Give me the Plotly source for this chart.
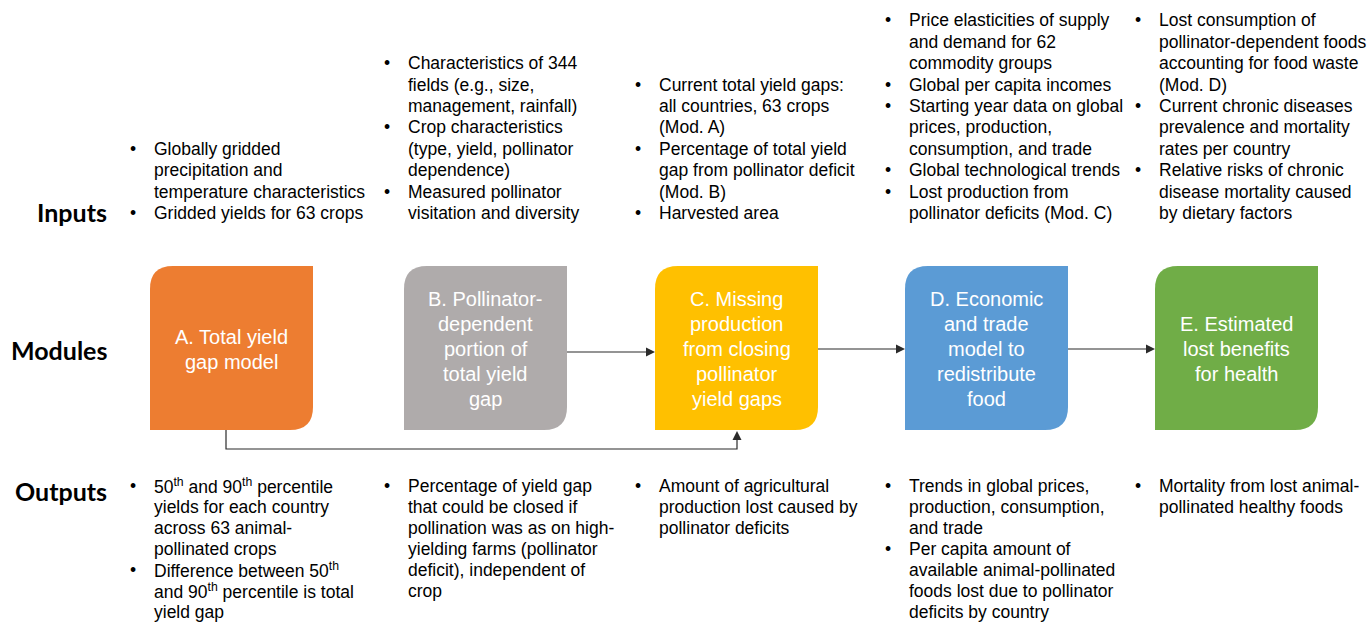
import plotly.graph_objects as go

# ---------------- content ----------------
row_labels = ["Inputs", "Modules", "Outputs"]

module_lines = [
    ["A. Total yield", "gap model"],
    ["B. Pollinator-", "dependent", "portion of", "total yield", "gap"],
    ["C. Missing", "production", "from closing", "pollinator", "yield gaps"],
    ["D. Economic", "and trade", "model to", "redistribute", "food"],
    ["E. Estimated", "lost benefits", "for health"],
]
module_colors = ["#ED7D31", "#AFABAB", "#FFC000", "#5B9BD5", "#70AD47"]

inputs_A = [
    ["Globally gridded", "precipitation and", "temperature characteristics"],
    ["Gridded yields for 63 crops"],
]
inputs_B = [
    ["Characteristics of 344", "fields (e.g., size,", "management, rainfall)"],
    ["Crop characteristics", "(type, yield, pollinator", "dependence)"],
    ["Measured pollinator", "visitation and diversity"],
]
inputs_C = [
    ["Current total yield gaps:", "all countries, 63 crops", "(Mod. A)"],
    ["Percentage of total yield", "gap from pollinator deficit", "(Mod. B)"],
    ["Harvested area"],
]
inputs_D = [
    ["Price elasticities of supply", "and demand for 62", "commodity groups"],
    ["Global per capita incomes"],
    ["Starting year data on global", "prices, production,", "consumption, and trade"],
    ["Global technological trends"],
    ["Lost production from", "pollinator deficits (Mod. C)"],
]
inputs_E = [
    ["Lost consumption of", "pollinator-dependent foods", "accounting for food waste", "(Mod. D)"],
    ["Current chronic diseases", "prevalence and mortality", "rates per country"],
    ["Relative risks of chronic", "disease mortality caused", "by dietary factors"],
]

outputs_A = [
    ["50<sup>th</sup> and 90<sup>th</sup> percentile", "yields for each country",
     "across 63 animal-", "pollinated crops"],
    ["Difference between 50<sup>th</sup>", "and 90<sup>th</sup> percentile is total", "yield gap"],
]
outputs_B = [
    ["Percentage of yield gap", "that could be closed if", "pollination was as on high-",
     "yielding farms (pollinator", "deficit), independent of", "crop"],
]
outputs_C = [
    ["Amount of agricultural", "production lost caused by", "pollinator deficits"],
]
outputs_D = [
    ["Trends in global prices,", "production, consumption,", "and trade"],
    ["Per capita amount of", "available animal-pollinated", "foods lost due to pollinator",
     "deficits by country"],
]
outputs_E = [
    ["Mortality from lost animal-", "pollinated healthy foods"],
]

inputs = [inputs_A, inputs_B, inputs_C, inputs_D, inputs_E]
outputs = [outputs_A, outputs_B, outputs_C, outputs_D, outputs_E]

# arrows: (from module, to module)
flow_links = [(1, 2), (2, 3), (3, 4)]
bottom_link = (0, 2)

# ---------------- layout constants ----------------
W, H = 1369, 622
BOX_X0 = [150, 404, 655, 905, 1155]
BOX_W = 163
BOX_Y0, BOX_Y1 = 266, 430
R = 23
FLOW_Y = [352, 349, 349]
BOTTOM_Y = 449
BOTTOM_X = [226, 737]

TXT_FONT = "Liberation Sans, Arial, sans-serif"
TXT_SIZE = 17.5
LH_IN = 21.4
LH_OUT = 21.0
IN_LAST_Y = 213
OUT_FIRST_Y = 486
BOX_SIZE = 20
BOX_LH = 25
BOX_CY = 349

fig = go.Figure()
shapes = []
ann = []

# boxes
for i, col in enumerate(module_colors):
    x0 = BOX_X0[i]
    x1 = x0 + BOX_W
    y0, y1 = BOX_Y0, BOX_Y1
    path = (f"M {x0},{y0+R} Q {x0},{y0} {x0+R},{y0} L {x1},{y0} L {x1},{y1-R} "
            f"Q {x1},{y1} {x1-R},{y1} L {x0},{y1} Z")
    shapes.append(dict(type="path", path=path, fillcolor=col, line=dict(width=0),
                       xref="x", yref="y", layer="below"))
    lines = module_lines[i]
    n = len(lines)
    cx = x0 + BOX_W / 2
    for k, t in enumerate(lines):
        y = BOX_CY + (k - (n - 1) / 2) * BOX_LH
        ann.append(dict(x=cx, y=y, text=t, showarrow=False, xanchor="center", yanchor="middle",
                        font=dict(family=TXT_FONT, size=BOX_SIZE, color="white")))

ARROW_COL = "#2b2b2b"
AH_L, AH_W = 9, 4.5


def arrow_right(xa, xb, y):
    shapes.append(dict(type="line", x0=xa, x1=xb - AH_L, y0=y, y1=y,
                       line=dict(color=ARROW_COL, width=1.2), xref="x", yref="y"))
    shapes.append(dict(type="path",
                       path=f"M {xb},{y} L {xb-AH_L},{y-AH_W} L {xb-AH_L},{y+AH_W} Z",
                       fillcolor=ARROW_COL, line=dict(width=0), xref="x", yref="y"))


for (a, b), y in zip(flow_links, FLOW_Y):
    arrow_right(BOX_X0[a] + BOX_W, BOX_X0[b], y)

# bottom connector A -> C
xa, xc = BOTTOM_X
tip = BOX_Y1 + 1
shapes.append(dict(type="path",
                   path=f"M {xa},{BOX_Y1} L {xa},{BOTTOM_Y} L {xc},{BOTTOM_Y} L {xc},{tip+AH_L}",
                   line=dict(color=ARROW_COL, width=1.2), xref="x", yref="y"))
shapes.append(dict(type="path",
                   path=f"M {xc},{tip} L {xc-AH_W},{tip+AH_L} L {xc+AH_W},{tip+AH_L} Z",
                   fillcolor=ARROW_COL, line=dict(width=0), xref="x", yref="y"))


def add_bullets(items, x0, y_first, lh):
    y = y_first
    for item in items:
        ann.append(dict(x=x0 - 17, y=y, text="•", showarrow=False, xanchor="center",
                        yanchor="middle", font=dict(family=TXT_FONT, size=TXT_SIZE, color="black")))
        for t in item:
            ann.append(dict(x=x0 + 2, y=y, text=t, showarrow=False, xanchor="left",
                            yanchor="middle", font=dict(family=TXT_FONT, size=TXT_SIZE, color="black")))
            y += lh


for i in range(5):
    n_in = sum(len(it) for it in inputs[i])
    add_bullets(inputs[i], BOX_X0[i], IN_LAST_Y - (n_in - 1) * LH_IN, LH_IN)
    add_bullets(outputs[i], BOX_X0[i], OUT_FIRST_Y, LH_OUT)

# row labels
for lab, y in zip(row_labels, [212, 350, 491]):
    ann.append(dict(x=109, y=y, text=f"<b>{lab}</b>", showarrow=False, xanchor="right",
                    yanchor="middle", font=dict(family="Lato, Open Sans, sans-serif", size=25,
                                                color="black")))

fig.update_layout(
    width=W, height=H, margin=dict(l=0, r=0, t=0, b=0),
    paper_bgcolor="white", plot_bgcolor="white",
    xaxis=dict(range=[0, W], visible=False, fixedrange=True),
    yaxis=dict(range=[H, 0], visible=False, fixedrange=True),
    shapes=shapes, annotations=ann, showlegend=False,
)
fig.write_html("out.html", config={"displayModeBar": False},
               post_script="document.body.style.margin='0';document.body.style.overflow='hidden';")
